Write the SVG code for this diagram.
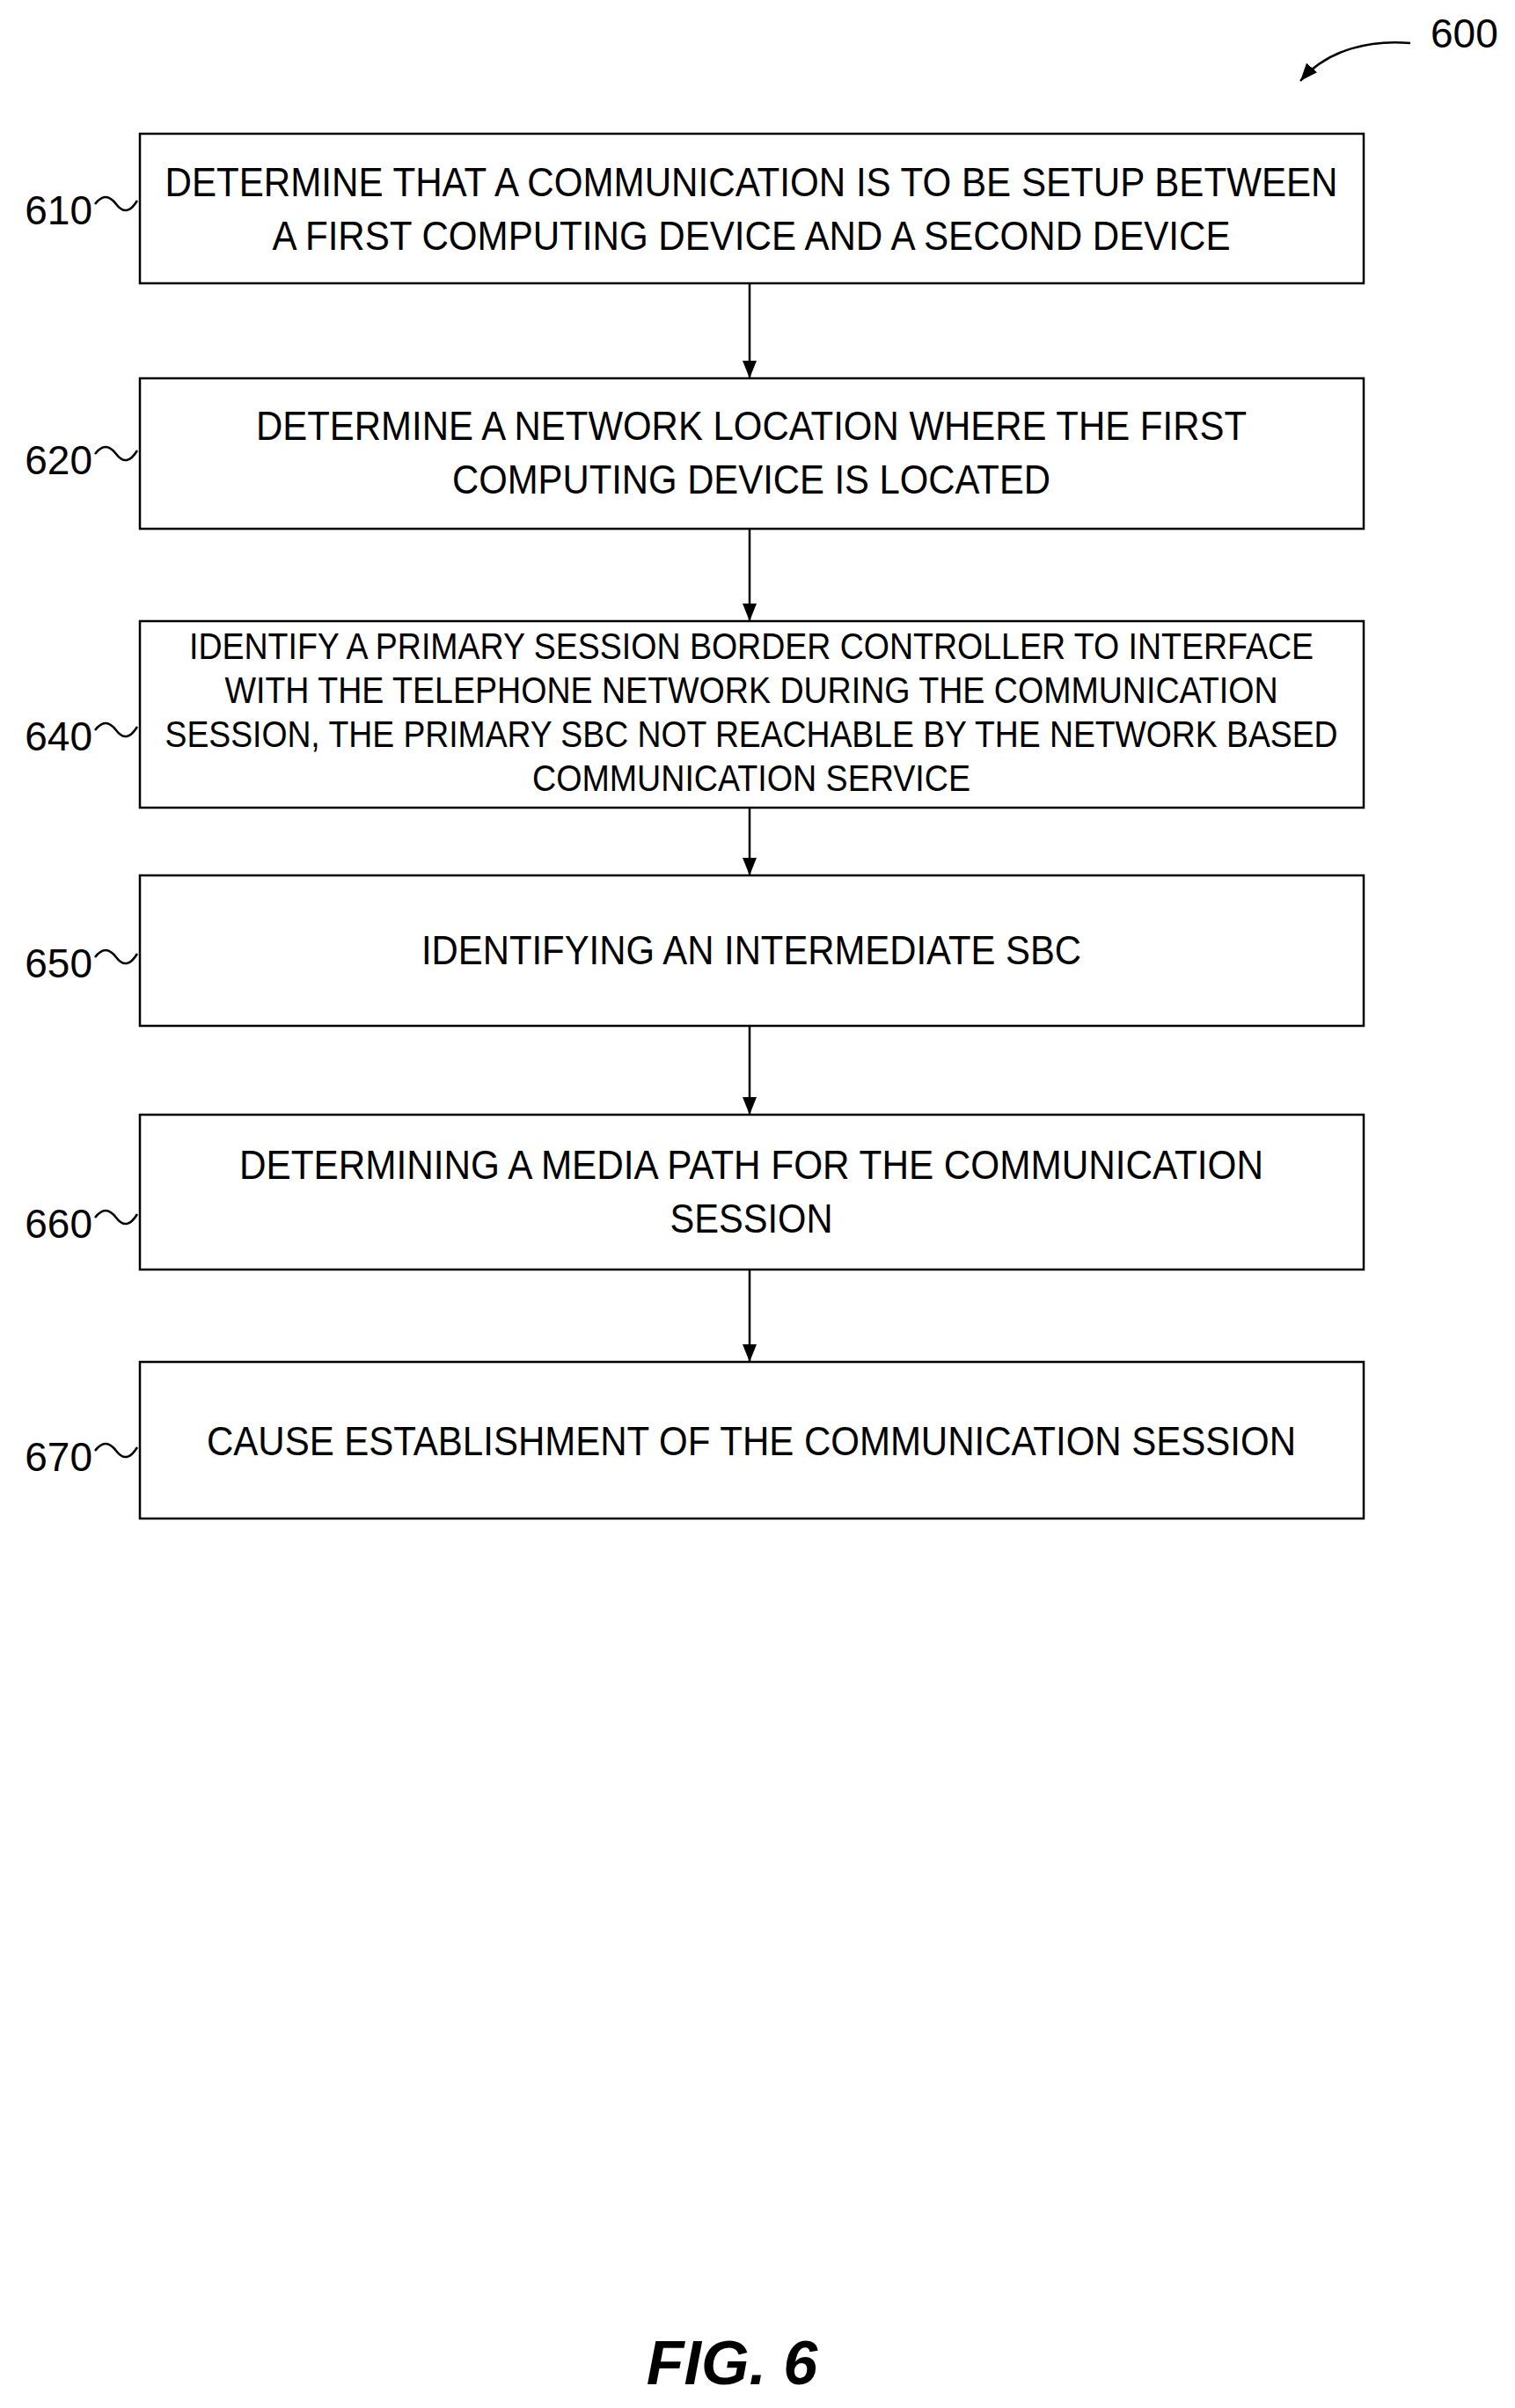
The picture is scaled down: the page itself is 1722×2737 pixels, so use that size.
<svg xmlns="http://www.w3.org/2000/svg" width="1722" height="2737" viewBox="0 0 1722 2737">
<style>
.b{fill:#fff;stroke:#000;stroke-width:2.5}
.t{font-family:"Liberation Sans",Arial,sans-serif;font-size:46px;text-anchor:middle;fill:#000}
.s{font-size:42px}
.l{font-family:"Liberation Sans",Arial,sans-serif;font-size:46px;text-anchor:end;fill:#000}
.c{fill:none;stroke:#000;stroke-width:2.5}
</style>
<defs>
<marker id="d" markerWidth="16" markerHeight="20" refX="8" refY="20" markerUnits="userSpaceOnUse" orient="0"><path d="M0,0L16,0L8,20Z" fill="#000"/></marker>
<marker id="r" viewBox="0 0 20 16" markerWidth="20" markerHeight="16" refX="20" refY="8" orient="auto" markerUnits="userSpaceOnUse"><path d="M0,0L20,8L0,16Z" fill="#000"/></marker></defs>
<g id="ref600"><text x="1626" y="54" class="t" style="text-anchor:start">600</text><path class="c" d="M1603,49 C1560,45 1510,55 1478,92" marker-end="url(#r)"/></g>
<g id="connectors">
<line class="c" x1="852" y1="322" x2="852" y2="430" marker-end="url(#d)"/>
<line class="c" x1="852" y1="601" x2="852" y2="706" marker-end="url(#d)"/>
<line class="c" x1="852" y1="918" x2="852" y2="995" marker-end="url(#d)"/>
<line class="c" x1="852" y1="1166" x2="852" y2="1267" marker-end="url(#d)"/>
<line class="c" x1="852" y1="1443" x2="852" y2="1548" marker-end="url(#d)"/>
</g>
<g id="n610"><rect class="b" x="159" y="152" width="1391" height="170"/><text class="t" x="854" y="223" textLength="1333" lengthAdjust="spacingAndGlyphs">DETERMINE THAT A COMMUNICATION IS TO BE SETUP BETWEEN</text><text class="t" x="854" y="284" textLength="1089" lengthAdjust="spacingAndGlyphs">A FIRST COMPUTING DEVICE AND A SECOND DEVICE</text><text class="l" x="105" y="255">610</text><path class="c" d="M108,232 q12,-16 24,0 t24,-4"/></g>
<g id="n620"><rect class="b" x="159" y="430" width="1391" height="171"/><text class="t" x="854" y="500" textLength="1126" lengthAdjust="spacingAndGlyphs">DETERMINE A NETWORK LOCATION WHERE THE FIRST</text><text class="t" x="854" y="561" textLength="680" lengthAdjust="spacingAndGlyphs">COMPUTING DEVICE IS LOCATED</text><text class="l" x="105" y="539">620</text><path class="c" d="M108,516 q12,-16 24,0 t24,-4"/></g>
<g id="n640"><rect class="b" x="159" y="706" width="1391" height="212"/><text class="t s" x="854" y="749" textLength="1278" lengthAdjust="spacingAndGlyphs">IDENTIFY A PRIMARY SESSION BORDER CONTROLLER TO INTERFACE</text><text class="t s" x="854" y="799" textLength="1197" lengthAdjust="spacingAndGlyphs">WITH THE TELEPHONE NETWORK DURING THE COMMUNICATION</text><text class="t s" x="854" y="849" textLength="1333" lengthAdjust="spacingAndGlyphs">SESSION, THE PRIMARY SBC NOT REACHABLE BY THE NETWORK BASED</text><text class="t s" x="854" y="899" textLength="498" lengthAdjust="spacingAndGlyphs">COMMUNICATION SERVICE</text><text class="l" x="105" y="853">640</text><path class="c" d="M108,830 q12,-16 24,0 t24,-4"/></g>
<g id="n650"><rect class="b" x="159" y="995" width="1391" height="171"/><text class="t" x="854" y="1096" textLength="750" lengthAdjust="spacingAndGlyphs">IDENTIFYING AN INTERMEDIATE SBC</text><text class="l" x="105" y="1111">650</text><path class="c" d="M108,1088 q12,-16 24,0 t24,-4"/></g>
<g id="n660"><rect class="b" x="159" y="1267" width="1391" height="176"/><text class="t" x="854" y="1340" textLength="1164" lengthAdjust="spacingAndGlyphs">DETERMINING A MEDIA PATH FOR THE COMMUNICATION</text><text class="t" x="854" y="1401" textLength="185" lengthAdjust="spacingAndGlyphs">SESSION</text><text class="l" x="105" y="1407">660</text><path class="c" d="M108,1384 q12,-16 24,0 t24,-4"/></g>
<g id="n670"><rect class="b" x="159" y="1548" width="1391" height="178"/><text class="t" x="854" y="1654" textLength="1238" lengthAdjust="spacingAndGlyphs">CAUSE ESTABLISHMENT OF THE COMMUNICATION SESSION</text><text class="l" x="105" y="1672">670</text><path class="c" d="M108,1649 q12,-16 24,0 t24,-4"/></g>
<text x="832" y="2710" style="font-family:'Liberation Sans',Arial,sans-serif;font-size:70px;font-weight:bold;font-style:italic;text-anchor:middle">FIG. 6</text>
</svg>
